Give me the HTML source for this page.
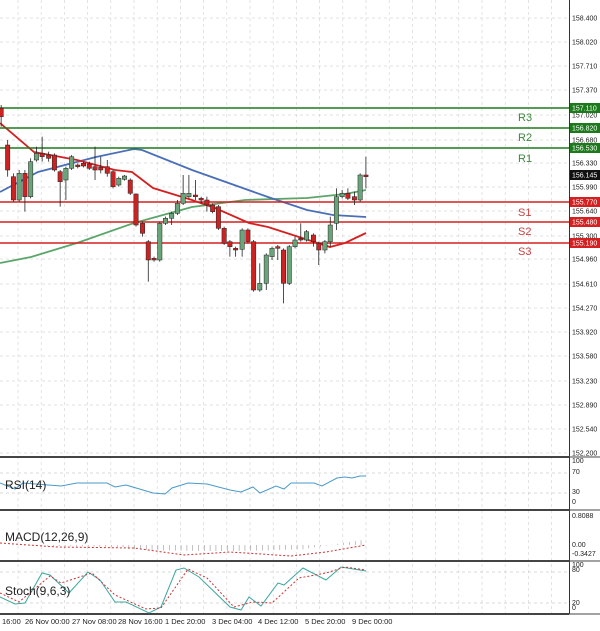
<!DOCTYPE html>
<html><head><meta charset="utf-8"><style>
html,body{margin:0;padding:0;background:#fff;}
svg{display:block;font-family:"Liberation Sans",sans-serif;}
</style></head><body>
<svg id="s" width="600" height="631" viewBox="0 0 600 631" xmlns="http://www.w3.org/2000/svg">
<rect width="600" height="631" fill="#fff"/>
<g id="grid"></g>
<g id="main"></g>
<g id="lower"></g>
<g id="axis" font-size="7" fill="#222"></g>
</svg>
<script>
var NS="http://www.w3.org/2000/svg";
function el(p,t,a,txt){var e=document.createElementNS(NS,t);for(var k in a)e.setAttribute(k,a[k]);if(txt!==undefined)e.textContent=txt;document.getElementById(p).appendChild(e);return e;}
function py(p){return 18+(158.4-p)*70.2;}
// grid
for(var x=18;x<569;x+=23.2){el("grid","line",{x1:x,y1:0,x2:x,y2:614,stroke:"#d8d8d8","stroke-dasharray":"3,3","stroke-width":0.7});}
var labels=["158.400","158.020","157.710","157.370","157.020","156.680","156.330","155.990","155.640","155.300","154.960","154.610","154.270","153.920","153.580","153.230","152.890","152.540","152.200"];
var ly=[18,42,66,90,115,140,163,187,211,236,259,284,308,332,356,381,405,429,453];
for(var i=0;i<labels.length;i++){el("grid","line",{x1:0,y1:ly[i],x2:569,y2:ly[i],stroke:"#d8d8d8","stroke-dasharray":"3,3","stroke-width":0.7});el("axis","text",{x:572,y:ly[i]+2.5},labels[i]);}
// MAs
function pl(g,pts,col,w,dash){var d=pts.map(function(p){return p[0]+","+p[1];}).join(" ");var a={points:d,fill:"none",stroke:col,"stroke-width":w};if(dash)a["stroke-dasharray"]=dash;el(g,"polyline",a);}
pl("main",[[0,263],[31,257],[77,243],[134,223],[192,207],[245,200],[307,198],[345,194],[366,190]],"#5aa66a",1.8);
pl("main",[[0,192],[38,172],[96,157],[134,149],[142,150],[192,170],[268,197],[307,210],[333,215],[366,217]],"#4a6fb8",1.8);
pl("main",[[0,123],[34,152],[77,160],[115,170],[132,172],[153,188],[192,200],[215,208],[249,223],[268,227],[299,237],[330,247],[345,243],[366,233]],"#d42020",1.8);
// levels
var lv=[[108,"157.110","#1c7a1c"],[128,"156.820","#1c7a1c"],[148,"156.530","#1c7a1c"],[202,"155.770","#d42020"],[222,"155.480","#d42020"],[243,"155.190","#d42020"]];
lv.forEach(function(l){el("main","line",{x1:0,y1:l[0],x2:569,y2:l[0],stroke:l[2],"stroke-width":1.6});el("axis","rect",{x:570,y:l[0]-5,width:30,height:10,fill:l[2]});el("axis","text",{x:572,y:l[0]+2.5,fill:"#fff"},l[1]);});
el("axis","rect",{x:570,y:170,width:30,height:10,fill:"#111"});el("axis","text",{x:572,y:177.5,fill:"#fff"},"156.145");
[["R3",117,"#3a8a3a"],["R2",137,"#3a8a3a"],["R1",158,"#3a8a3a"],["S1",212,"#c84040"],["S2",231,"#c84040"],["S3",251,"#c84040"]].forEach(function(t){el("main","text",{x:518,y:t[1]+4,fill:t[2],"font-size":11},t[0]);});
// candles [zx, o, c, h, l] in zoom coords
var C=[[3,55,80,45,110],[20,165/1,240,150,260],[35,260,330,250,335],[50,330,250,240,335],[65,250,320,240,365],[80,320,215,205,325],[95,210,190,170,215],[110,190,200,140,215],[127,195,205,185,215],[142,195,240,190,245],[157,245,275,240,350],[172,270,235,230,330],[187,235,200,195,240],[203,225,230,220,235],[218,220,228,215,232],[233,222,235,215,240],[248,230,240,170,270],[263,232,240,200,250],[280,230,250,210,260],[295,245,290,240,295],[310,285,265,260,290],[325,268,258,255,272],[340,270,310,265,315],[355,312,405,310,410],[372,400,430,395,440],[387,455,510,450,575],[402,505,510,500,515],[417,510,400,395,515],[432,400,385,380,405],[448,385,370,365,405],[463,370,340,330,375],[478,340,310,255,345],[493,320,310,255,325],[510,315,320,270,330],[525,325,330,320,340],[540,330,345,320,365],[555,345,365,340,370],[570,350,415,345,420],[585,415,460,410,465],[600,455,470,450,500],[615,475,480,470,500],[632,478,420,415,500],[647,420,455,415,460],[662,455,600,450,605],[678,600,580,520,605],[695,580,495,490,600],[710,500,475,470,510],[725,470,475,465,510],[740,480,580,475,640],[755,580,470,465,585],[770,470,450,440,475],[785,445,450,400,455],[800,450,425,420,455],[818,435,455,430,470],[832,460,480,455,525],[848,480,455,450,490],[862,455,405,380,470],[878,400,320,295,420],[893,320,310,300,325],[908,310,325,295,330],[925,320,330,305,345],[940,330,255,250,335],[955,255,260,200,295]];
C.forEach(function(c){var x=c[0]/2.61,o=c[1]/3+90,cl=c[2]/3+90,h=c[3]/3+90,l=c[4]/3+90;var up=cl<o;
el("main","line",{x1:x,y1:h,x2:x,y2:l,stroke:"#222","stroke-width":0.8});
var t=Math.min(o,cl),b=Math.max(Math.abs(o-cl),1.2);
el("main","rect",{x:x-2.2,y:t,width:4.4,height:b,fill:up?"#6aa57a":"#cc2222",stroke:"#222","stroke-width":0.5});});
// separators
el("lower","line",{x1:569.5,y1:0,x2:569.5,y2:614,stroke:"#333","stroke-width":1});
[457,510,561,614].forEach(function(y){el("lower","rect",{x:0,y:y-1,width:569,height:2,fill:"#444"});el("lower","line",{x1:569,y1:y,x2:600,y2:y,stroke:"#444","stroke-width":1});});
// RSI
[473,493].forEach(function(y){el("lower","line",{x1:0,y1:y,x2:569,y2:y,stroke:"#ccc","stroke-dasharray":"3,3","stroke-width":0.7});});
pl("lower",[[0,483],[15,489],[23,483],[61,486],[77,483],[107,483],[115,487],[126,485],[153,493],[165,494],[172,488],[188,483],[207,484],[230,490],[241,492],[253,487],[260,493],[276,486],[284,489],[291,483],[314,483],[322,486],[337,478],[345,477],[352,478],[360,476],[366,476]],"#4a9ac8",1);
el("lower","text",{x:5,y:489,"font-size":12,fill:"#222"},"RSI(14)");
[["100",463],["70",474],["30",494],["0",504]].forEach(function(t){el("axis","text",{x:572,y:t[1]},t[0]);});
// MACD
for(var i=0;i<63;i++){var x=(3+i*15.15)/2.61;var v;var f=i/62;
 if(f<0.35)v=-f*10;else if(f<0.85)v=-7-Math.sin((f-0.35)/0.5*Math.PI)*3;else v=(f-0.85)/0.15*14-6;
 el("lower","line",{x1:x,y1:545,x2:x,y2:545-v*0.6,stroke:"#999","stroke-width":0.6});}
pl("lower",[[0,543],[57,547],[134,548],[184,555],[230,552],[291,556],[326,552],[366,545]],"#cc3333",1,"2,2");
el("lower","text",{x:5,y:541,"font-size":12,fill:"#222"},"MACD(12,26,9)");
[["0.8088",518],["0.00",547],["-0.3427",556]].forEach(function(t){el("axis","text",{x:572,y:t[1]},t[0]);});
// Stoch
[572,603].forEach(function(y){el("lower","line",{x1:0,y1:y,x2:569,y2:y,stroke:"#ccc","stroke-dasharray":"3,3","stroke-width":0.7});});
pl("lower",[[0,597],[15,604],[25,603],[42,573],[50,575],[69,593],[88,572],[100,580],[115,602],[126,602],[149,613],[161,607],[176,570],[184,568],[199,577],[230,607],[241,610],[249,597],[261,606],[278,583],[284,585],[303,568],[326,580],[341,567],[366,571]],"#3aa8a0",1);
pl("lower",[[0,593],[19,602],[50,576],[61,583],[92,573],[115,595],[146,609],[161,608],[188,569],[207,578],[234,607],[253,602],[272,603],[299,578],[326,573],[345,567],[366,570]],"#cc3333",1,"2,2");
el("lower","text",{x:5,y:595,"font-size":12,fill:"#222"},"Stoch(9,6,3)");
[["100",567],["80",572],["20",605],["0",610]].forEach(function(t){el("axis","text",{x:572,y:t[1]},t[0]);});
// dates
[["16:00",2],["26 Nov 00:00",25],["27 Nov 08:00",72],["28 Nov 16:00",118],["1 Dec 20:00",165],["3 Dec 04:00",212],["4 Dec 12:00",258],["5 Dec 20:00",305],["9 Dec 00:00",352]].forEach(function(t){el("axis","text",{x:t[1],y:624,"font-size":7.5},t[0]);});
</script>
</body></html>
